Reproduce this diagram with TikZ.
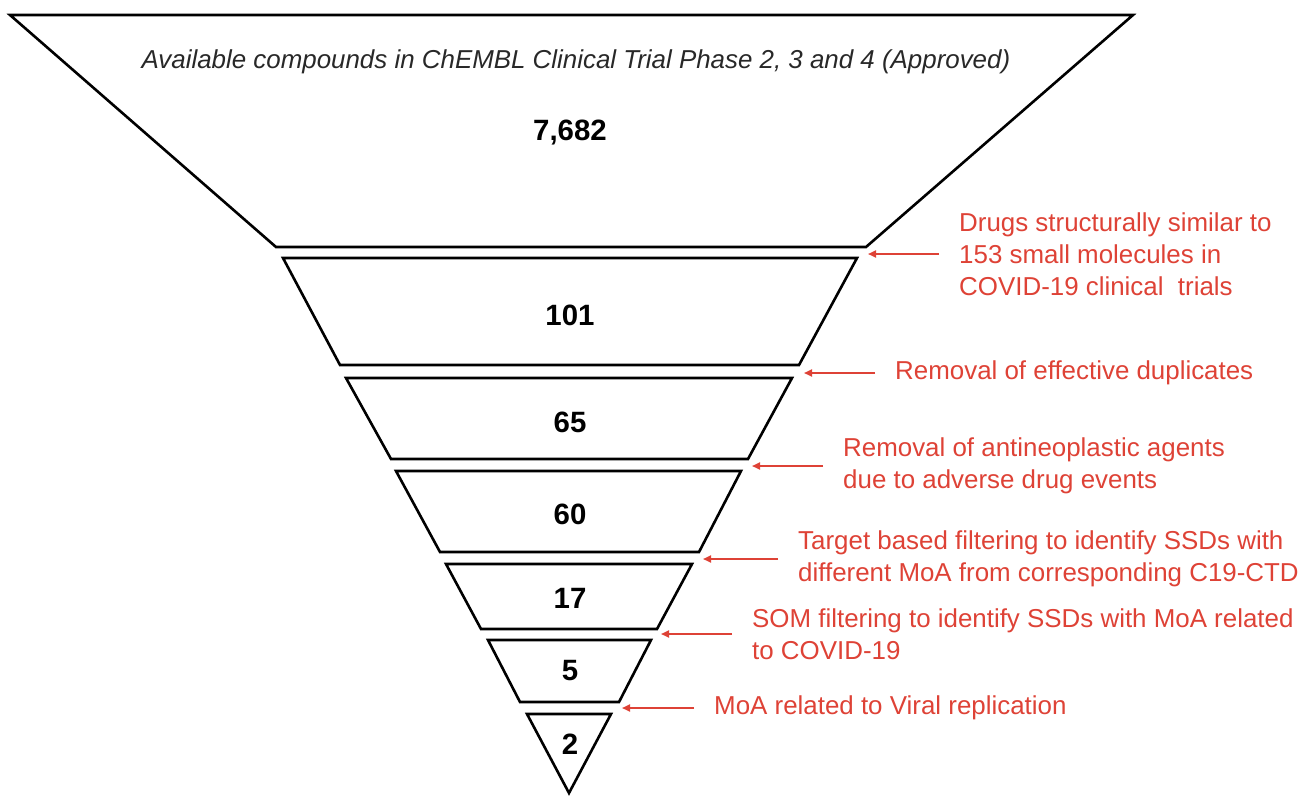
\documentclass[tikz,border=0pt]{standalone}
\usepackage{fontspec}
\setmainfont{Liberation Sans}
\usetikzlibrary{arrows.meta,positioning}
\definecolor{stepred}{RGB}{222,66,54}
\definecolor{titlegray}{RGB}{40,40,40}

\begin{document}
\begin{tikzpicture}[>={Triangle[length=8bp,width=7bp]}, x=1bp, y=-1bp,
                    level/.style={draw=black, line width=2.6bp, line join=miter},
                    count/.style={font=\fontsize{29.5}{31}\selectfont\bfseries},
                    note/.style={text=stepred, align=left, inner sep=0pt,
                                 font=\fontsize{26}{32}\selectfont},
                    filter/.style={->, draw=stepred, line width=1.8bp, shorten <=20bp}]
  \useasboundingbox (0,0) rectangle (1307,795);

  % funnel levels: top y / bottom y / top left, top right / bottom left, bottom right
  \foreach \i/\yt/\yb/\tl/\tr/\bl/\br in {1/15/247/10/1133/276/866,
                                          2/258/365/283/857/340/799,
                                          3/378/459/346/792/391/748,
                                          4/471/552/396/741/440/699,
                                          5/564/629/446/692/481/657,
                                          6/640/702/488/651/520/619,
                                          7/714/793/527/611/569/569}
    \draw[level] (\tl,\yt) -- (\tr,\yt) -- (\br,\yb) -- (\bl,\yb) -- cycle;

  % compound counts
  \foreach \i/\y/\n in {1/133/{7,682}, 2/315/101, 3/422/65, 4/514/60,
                        5/598/17, 6/671/5, 7/744/2}
    \node[count] (n\i) at (570,\y) {\n};

  \node[text=titlegray, font=\fontsize{26}{28}\selectfont\itshape] (title) at (576,62)
       {Available compounds in ChEMBL Clinical Trial Phase 2, 3 and 4 (Approved)};

  % filtering steps, each pointing at the gap under its level
  \coordinate (t1) at (868,254);
  \coordinate (t2) at (804,373);
  \coordinate (t3) at (752,466);
  \coordinate (t4) at (703,559);
  \coordinate (t5) at (661,634);
  \coordinate (t6) at (622,708);

  \node[note, right=91bp of t1] (s1) {Drugs structurally similar to\\
        153 small molecules in\\ COVID-19 clinical~ trials};
  \node[note, right=91bp of t2] (s2) {Removal of effective duplicates};
  \node[note, right=91bp of t3] (s3) {Removal of antineoplastic agents\\
        due to adverse drug events};
  \node[note, right=95bp of t4] (s4) {Target based filtering to identify SSDs with\\
        different MoA from corresponding C19-CTD};
  \node[note, right=91bp of t5] (s5) {SOM filtering to identify SSDs with MoA related\\
        to COVID-19};
  \node[note, right=92bp of t6] (s6) {MoA related to Viral replication};

  \foreach \i in {1,...,6}
    \draw[filter] (s\i.west) -- (t\i);
\end{tikzpicture}
\end{document}
